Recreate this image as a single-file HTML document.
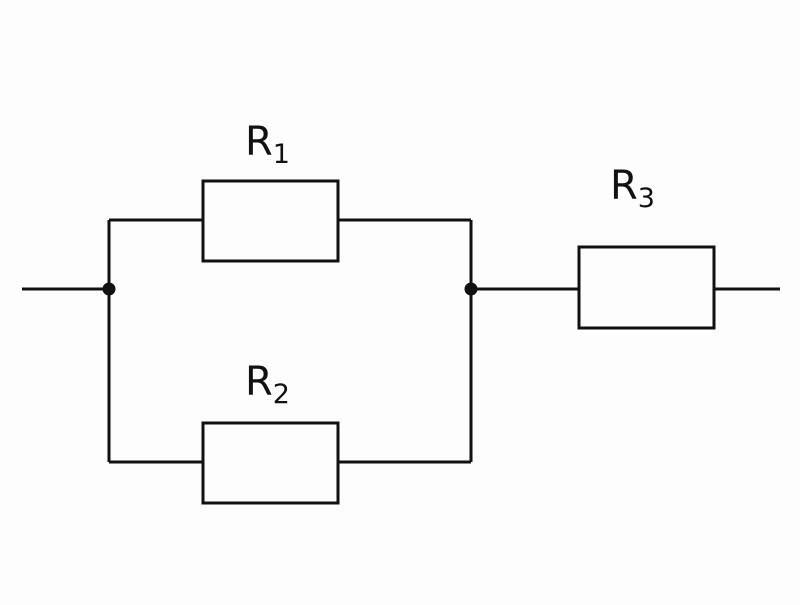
<!DOCTYPE html>
<html><head><style>html,body{margin:0;padding:0;background:#fdfdfd}</style></head>
<body>
<svg width="800" height="600" xmlns="http://www.w3.org/2000/svg">
<rect width="800" height="600" fill="#fdfdfd"/>
<g stroke="#111" stroke-width="3" fill="none">
<path d="M22 289H109M109 220V462M109 220H203M338 220H471M109 462H203M338 462H471M471 220V462M471 289H579M714 289H780"/>
<rect x="203" y="181" width="135" height="80"/>
<rect x="203" y="423" width="135" height="80"/>
<rect x="579" y="247" width="135" height="81"/>
</g>
<circle cx="109" cy="289" r="6.5" fill="#111"/>
<circle cx="471" cy="289" r="6.5" fill="#111"/>
<g font-family="'DejaVu Sans','Liberation Sans',sans-serif" fill="#111">
<text x="245" y="155" font-size="40">R<tspan font-size="27" dy="8">1</tspan></text>
<text x="245" y="395" font-size="40">R<tspan font-size="27" dy="8">2</tspan></text>
<text x="610" y="199" font-size="40">R<tspan font-size="27" dy="8">3</tspan></text>
</g>
</svg>
</body></html>
